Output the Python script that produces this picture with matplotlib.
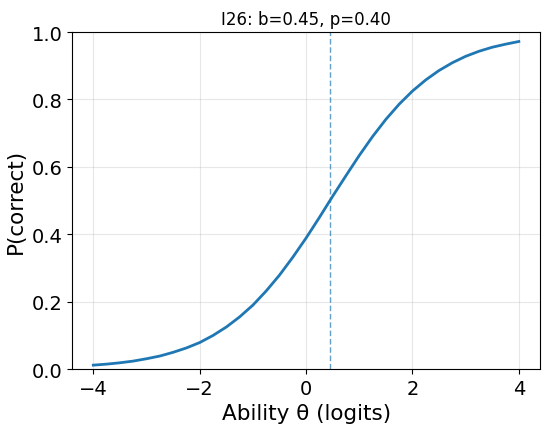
import numpy as np
from matplotlib import pyplot as plt

# item parameters
item = 'I26'
b = 0.45
p = 0.40

# curve
theta = [-4.0, -3.75, -3.5, -3.25, -3.0, -2.75, -2.5, -2.25, -2.0, -1.75, -1.5,
         -1.25, -1.0, -0.75, -0.5, -0.25, 0.0, 0.25, 0.5, 0.75, 1.0, 1.25, 1.5,
         1.75, 2.0, 2.25, 2.5, 2.75, 3.0, 3.25, 3.5, 3.75, 4.0]
prob = [0.012, 0.015, 0.019, 0.024, 0.031, 0.039, 0.050, 0.063, 0.079, 0.100, 0.125,
        0.155, 0.190, 0.232, 0.279, 0.332, 0.389, 0.450, 0.513, 0.574, 0.634, 0.690,
        0.741, 0.786, 0.825, 0.858, 0.886, 0.909, 0.928, 0.943, 0.955, 0.964, 0.972]

fig, ax = plt.subplots(figsize=(5.5, 4.35), dpi=100)
ax.plot(theta, prob, color='#1f77b4', lw=2)
ax.axvline(b, color='#1f77b4', ls='--', lw=1, alpha=0.7, dashes=(4, 2))
ax.set_ylim(0, 1)
ax.set_xticks([-4, -2, 0, 2, 4])
ax.grid(alpha=0.3)
ax.set_xlabel('Ability θ (logits)', fontsize=15.5)
ax.set_ylabel('P(correct)', fontsize=15.5)
ax.set_title(f'{item}: b={b:.2f}, p={p:.2f}', fontsize=12)
ax.tick_params(labelsize=14)
plt.subplots_adjust(left=0.131, right=0.982, top=0.924, bottom=0.149)
plt.savefig('out.png', dpi=100)
plt.close()
